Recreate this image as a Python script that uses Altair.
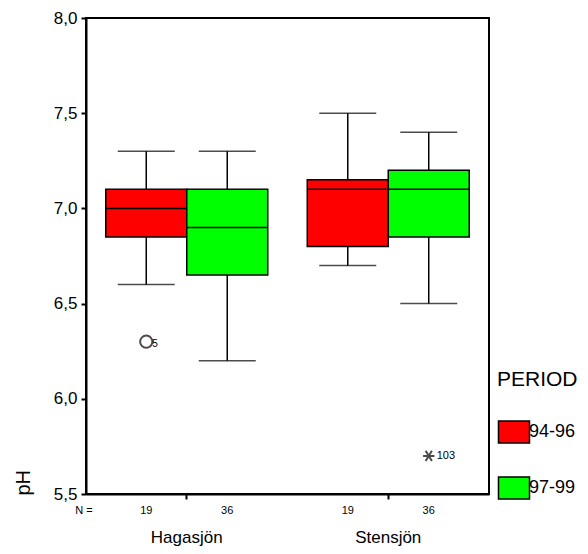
import altair as alt
import pandas as pd

# ---- data ----
lakes = ["Hagasjön", "Hagasjön", "Stensjön", "Stensjön"]
periods = ["94-96", "97-99", "94-96", "97-99"]
n_cases = [19, 36, 19, 36]
whisker_low = [6.6, 6.2, 6.7, 6.5]
q1 = [6.85, 6.65, 6.8, 6.85]
median = [7.0, 6.9, 7.1, 7.1]
q3 = [7.1, 7.1, 7.15, 7.2]
whisker_high = [7.3, 7.3, 7.5, 7.4]

out_lakes = ["Hagasjön", "Stensjön"]
out_periods = ["94-96", "97-99"]
out_values = [6.3, 5.7]
out_ids = ["5", "103"]
out_kind = ["outlier", "extreme"]

lake_order = ["Hagasjön", "Stensjön"]
period_order = ["94-96", "97-99"]
period_colors = ["#FF0000", "#00FF00"]
y_ticks = [5.5, 6.0, 6.5, 7.0, 7.5, 8.0]

box_df = pd.DataFrame({
    "lake": lakes, "period": periods, "n": n_cases,
    "lo": whisker_low, "q1": q1, "med": median, "q3": q3, "hi": whisker_high,
})
out_df = pd.DataFrame({
    "lake": out_lakes, "period": out_periods, "value": out_values,
    "id": out_ids, "kind": out_kind,
})
nlabel_df = pd.DataFrame({"t": ["N ="]})

W, H = 403, 476
FONT = "Liberation Sans"

x_enc = alt.X(
    "lake:N",
    scale=alt.Scale(domain=lake_order, paddingInner=0, paddingOuter=0),
    axis=alt.Axis(title=None, labelAngle=0, labelFontSize=17, labelPadding=30,
                  tickSize=5, tickWidth=2, tickColor="black",
                  domainColor="black", domainWidth=2, labelColor="black"),
)
xo_enc = alt.XOffset(
    "period:N",
    scale=alt.Scale(domain=period_order, paddingInner=0, paddingOuter=0.244),
)
y_scale = alt.Scale(domain=[5.5, 8.0], nice=False, zero=False)
y_axis = alt.Axis(
    values=y_ticks, grid=False,
    labelExpr="replace(format(datum.value, '.1f'), '.', ',')",
    labelFontSize=17, labelPadding=4, labelColor="black",
    tickSize=5, tickWidth=2, tickColor="black",
    domainColor="black", domainWidth=2,
    title="pH", titleFontSize=20, titleFontWeight="normal", titleColor="black",
    titleX=-63, titleY=H + 1, titleAngle=270, titleAlign="left", titleBaseline="middle",
)

base = alt.Chart(box_df).encode(x=x_enc, xOffset=xo_enc)

upper_whisker = base.mark_rule(color="black", strokeWidth=1.5).encode(
    y=alt.Y("q3:Q", scale=y_scale, axis=y_axis), y2="hi:Q")
lower_whisker = base.mark_rule(color="black", strokeWidth=1.5).encode(
    y=alt.Y("lo:Q", scale=y_scale), y2="q1:Q")
cap_hi = base.mark_tick(color="black", size=57, thickness=1.5).encode(
    y=alt.Y("hi:Q", scale=y_scale))
cap_lo = base.mark_tick(color="black", size=57, thickness=1.5).encode(
    y=alt.Y("lo:Q", scale=y_scale))

boxes = base.mark_bar(stroke="black", strokeWidth=1.5, opacity=1).encode(
    y=alt.Y("q1:Q", scale=y_scale),
    y2="q3:Q",
    color=alt.Color(
        "period:N",
        scale=alt.Scale(domain=period_order, range=period_colors),
        legend=alt.Legend(title="PERIOD"),
    ),
)
medians = base.mark_bar(stroke="black", strokeWidth=1.5, fillOpacity=0).encode(
    y=alt.Y("med:Q", scale=y_scale), y2="med:Q")

counts = base.mark_text(fontSize=11, color="black", baseline="middle").encode(
    y=alt.value(H + 17), text="n:Q")
n_label = alt.Chart(nlabel_df).mark_text(
    fontSize=11, color="black", baseline="middle", align="center").encode(
    x=alt.value(-2), y=alt.value(H + 17), text="t:N")

obase = alt.Chart(out_df).encode(x=x_enc, xOffset=xo_enc,
                                  y=alt.Y("value:Q", scale=y_scale))
circles = obase.transform_filter(alt.datum.kind == "outlier").mark_point(
    shape="circle", filled=False, size=150, stroke="black", strokeWidth=2)
circle_lbl = obase.transform_filter(alt.datum.kind == "outlier").mark_text(
    align="left", baseline="middle", dx=6, dy=2, fontSize=10, color="black"
).encode(text="id:N")
stars = obase.transform_filter(alt.datum.kind == "extreme").mark_point(
    shape="M-1,0L1,0M-0.55,-0.9L0.55,0.9M-0.55,0.9L0.55,-0.9",
    filled=False, size=130, stroke="black", strokeWidth=2)
star_lbl = obase.transform_filter(alt.datum.kind == "extreme").mark_text(
    align="left", baseline="middle", dx=8, fontSize=11, color="black"
).encode(text="id:N")

chart = alt.layer(
    upper_whisker, lower_whisker, cap_hi, cap_lo, boxes, medians,
    counts, n_label, circles, circle_lbl, stars, star_lbl,
).properties(
    width=W, height=H,
    autosize=alt.AutoSizeParams(type="none"),
    padding={"left": 86, "top": 18, "right": 99, "bottom": 60},
).configure(
    font=FONT,
).configure_view(
    stroke="black", strokeWidth=2,
).configure_legend(
    orient="none", legendX=411, legendY=351,
    titleFontSize=21, titleFontWeight="normal", titleColor="black",
    titlePadding=30, titleBaseline="top",
    labelFontSize=18, labelColor="black", labelOffset=3,
    symbolType="M-1.41,-1L1.41,-1L1.41,1L-1.41,1Z", symbolSize=484,
    symbolStrokeColor="black", symbolStrokeWidth=1.5, symbolOpacity=1,
    symbolOffset=5, rowPadding=28, padding=0,
)

chart.save("out.html", embed_options={"renderer": "svg", "actions": False})
